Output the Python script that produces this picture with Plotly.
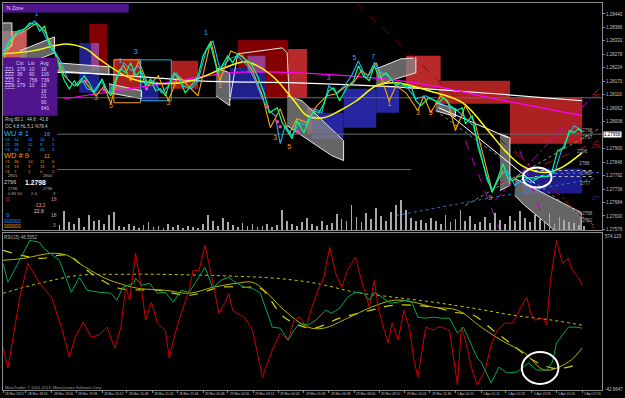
import plotly.graph_objects as go

# ---------------- DATA (prices stored in points: price = pts / 1e5) ----------------
green_x = [3,10,18,25,30,37,40,45,50,55,60,65,70,75,78,85,90,95,100,103,108,112,118,122,127,132,137,142,147,152,157,162,167,172,176,182,187,192,197,200,205,212,220,230,235,240,247,253,260,267,272,280,285,290,295,300,307,312,317,322,327,332,337,343,350,357,362,367,373,378,383,390,395,400,405,410,415,420,425,433,443,448,455,460,467,470,477,483,490,497,503,508,513,518,523,527,532,537,542,547,552,557,563,570,575,580,584,588]
green_pts = [128272,128332,128372,128380,128404,128396,128372,128392,128312,128284,128232,128172,128140,128172,128152,128192,128164,128124,128152,128180,128132,128112,128192,128220,128204,128244,128192,128212,128152,128180,128132,128140,128112,128172,128204,128172,128124,128148,128172,128192,128272,128324,128204,128272,128244,128280,128260,128244,128192,128120,128044,128064,128004,127972,127940,128012,127964,128020,128052,128044,128080,128132,128144,128092,128144,128172,128232,128192,128172,128232,128184,128204,128180,128152,128164,128144,128152,128092,128072,128104,128084,128104,128072,128052,128064,128000,128032,127904,127812,127724,127784,127840,127780,127772,127788,127792,127780,127784,127780,127792,127788,127800,127892,127904,127972,127964,127980,127964]

cyan_x = [3,12,20,28,35,42,48,55,62,68,75,82,88,95,102,110,118,125,133,140,148,155,163,170,178,185,193,200,208,215,222,232,240,250,258,265,272,278,283,288,295,302,310,318,325,332,340,348,355,362,370,378,385,392,400,410,420,430,440,450,460,470,478,485,492,498,505,512,520,528,536,544,552,560,567,574,580,588]
cyan_pts = [128292,128352,128364,128388,128412,128380,128332,128292,128244,128180,128152,128180,128140,128132,128172,128124,128180,128244,128212,128232,128164,128172,128124,128152,128204,128152,128140,128172,128292,128332,128220,128260,128272,128232,128172,128100,128052,128032,127920,127992,127952,128004,127992,128060,128044,128152,128124,128152,128192,128252,128180,128244,128204,128192,128156,128152,128100,128112,128092,128072,128060,128020,127992,127892,127772,127732,127792,127812,127752,127780,127764,127784,127788,127804,127892,127952,127992,127972]

orange_x = [3,15,25,37,45,55,65,75,85,97,105,112,120,125,132,140,150,160,170,180,190,200,213,222,233,245,255,265,273,283,292,300,310,320,330,340,350,357,365,372,380,393,400,410,422,428,435,445,452,460,470,480,497,503,508]
orange_pts = [128252,128352,128372,128404,128372,128292,128192,128152,128172,128112,128152,128080,128212,128232,128172,128252,128152,128192,128092,128192,128152,128112,128332,128172,128292,128272,128212,128112,127984,128060,127960,128020,128004,128072,128112,128120,128152,128164,128212,128192,128244,128092,128152,128124,128052,128112,128044,128112,128092,127972,128072,128000,127732,127772,127812]

ma_x = [3,33,67,87,100,133,167,193,227,247,260,277,297,310,327,343,360,380,400,433,467,493,510,527,550,567,588]
ma_pts = [128280,128292,128320,128300,128260,128180,128160,128172,128224,128248,128232,128184,128092,128032,128024,128052,128092,128152,128164,128132,128084,127972,127892,127832,127804,127824,127884]

white_x = [3,100,200,300,400,500,588]
white_pts = [128212,128200,128172,128164,128148,128120,128092]

magenta_x = [65,150,233,300,420,500,588]
magenta_pts = [128100,128152,128204,128204,128164,128100,128032]

hline_pts = [128104, 127958, 127816]
hline_x0 = [58, 58, 58]
hline_x1 = [608, 608, 415]

vol_x = list(range(60, 591, 5))
vol = [50,190,80,60,120,30,150,90,100,60,150,180,40,
       30,60,40,20,50,80,30,40,20,60,30,50,20,40,30,20,
       60,150,90,40,120,80,50,30,70,40,60,30,
       40,60,30,50,200,90,60,40,80,120,60,40,90,50,
       70,160,110,90,250,130,80,170,110,220,140,90,180,250,300,200,120,90,
       100,70,120,90,60,150,80,110,200,90,140,60,
       80,130,70,170,100,60,140,90,190,120,80,150,110,90,170,60,130,100,80,70,50,40]

# supply/demand zones: x0, x1, top pts, bottom pts, colour
zone_x0 = [3, 90, 80, 92, 115, 142, 173, 240, 291, 232, 250, 310, 315, 347, 380, 410, 443, 515, 528]
zone_x1 = [27, 108, 100, 100, 142, 160, 200, 291, 310, 268, 268, 319, 347, 380, 403, 445, 515, 588, 588]
zone_top = [128372,128400,128324,128324,128260,128172,128252,128336,128300,128224,128272,128064,128044,128140,128152,128272,128172,128104,127820]
zone_bot = [128264,128212,128124,128212,128132,128092,128140,128104,128104,128096,128204,127960,127940,127984,128044,128140,128080,127920,127720]
zone_col = ['#c85a5a','#820000','#20208c','#963c8c','#aa1e1e','#1c1c8c','#aa1e1e','#820000','#b82a2a',
            '#20208c','#963c8c','#b82a2a','#2626a0','#2626a0','#2626a0','#b82a2a','#ac2222','#ac2222','#1c1c8c']

box_x0 = [115, 142]
box_x1 = [142, 173]
box_top = [128256, 128256]
box_bot = [128084, 128092]
box_col = ['#ff9900', '#20b0e0']

# grey channel bands (polygons)
band_x = [[3,12,12,3], [20,55,55,20], [58,110,110,58], [110,143,143,110], [218,232,232,218],
          [290,305,347,347,335,290], [380,405,420,420,400,380], [505,515,515,505],
          [520,540,587,587,560,530,520], [440,460,460,440]]
band_pts = [[128404,128404,128312,128292], [128292,128348,128284,128228], [128244,128228,128196,128212],
            [128160,128132,128100,128124], [128224,128204,128072,128112],
            [128112,128092,127932,127852,127872,127992], [128220,128260,128264,128204,128180,128152],
            [127960,127944,127752,127732], [127780,127740,127644,127572,127572,127672,127712],
            [128084,128060,128028,128052]]
outline_x = [232,240,285,290,292]
outline_pts = [128092,128280,128304,128284,128112]

# trend / fib lines
seg_x0 = [360,520,500,500,470,440,400,525,470,540,540,560,443,453]
seg_x1 = [600,600,605,605,605,600,600,552,505,600,600,605,513,540]
seg_p0 = [128484,127892,127692,127752,127672,128052,127632,127892,127932,127812,127788,127800,128064,128040]
seg_p1 = [127580,127580,128140,127932,127980,127592,127780,127572,127572,127812,127788,127804,127944,127760]
seg_col = ['#8b0000','#a01010','#c000c0','#a01010','#909090','#808080','#1e78c8','#c000c0','#c000c0',
           '#c0c0c0','#c0c0c0','#3c8cff','#ffffff','#ffffff']
seg_dash = ['dash','dot','dashdot','dash','dot','dot','dot','dash','dash','dot','dot','dot','solid','solid']

cyan_lab_x = [37,122,137,208,332,358,377]
cyan_lab_pts = [128440,128252,128288,128364,128184,128264,128268]
cyan_lab = ['1','1','3','1','3','5','7']
orange_lab_x = [97,112,170,222,278,292,393,422,435,460,495]
orange_lab_pts = [128104,128068,128080,128152,127940,127904,128076,128040,128040,127980,127700]
orange_lab = ['3','5','3','1','3','5','1','3','5','7','9']

mark_x = [87,105,148,270,280,283,300]
mark_pts = [128172,128136,128140,128068,128008,127988,127968]

lvl_x = [588,588,583,585,587,586,588,588]
lvl_pts = [127972,127944,127888,127840,127800,127760,127640,127612]
lvl_lab = ['2798','2797','2796','2788','2780','2777','2768','2762']

# oscillator panel
red_x = [2,8,20,28,40,52,62,70,76,84,92,100,108,116,122,127,131,137,143,147,153,159,167,171,177,183,191,195,201,207,211,215,221,227,231,235,239,247,255,261,265,275,283,291,297,303,309,315,321,327,333,339,345,351,359,365,369,373,378,382,388,392,396,402,408,414,418,422,430,438,442,446,454,458,462,466,470,476,482,490,496,502,510,518,526,532,536,540,548,552,556,562,568,574,578,584,588]
red_v = [145,45,329,465,385,329,209,89,169,229,169,177,209,125,209,369,317,505,357,237,309,225,197,85,185,265,357,437,437,537,465,385,265,305,345,277,265,249,197,85,9,117,185,157,237,249,209,289,357,409,529,425,369,437,489,397,345,289,397,289,197,145,225,157,277,197,77,9,209,197,209,209,197,77,-23,209,157,49,-23,37,137,197,225,225,289,329,265,237,245,217,397,557,465,485,437,409,377]
osc_green_x = [3,8,16,30,40,44,60,72,80,88,100,112,118,124,135,137,143,151,159,167,175,183,191,199,207,215,223,231,239,247,255,263,275,283,291,297,303,311,319,329,335,343,351,359,367,373,378,386,394,402,410,416,422,430,438,446,454,462,468,474,482,486,496,504,512,522,534,542,552,558,562,574,582,588]
osc_green_v = [465,389,449,557,549,525,477,349,409,357,349,345,317,369,385,405,377,385,345,349,309,357,349,397,449,365,397,409,385,369,365,345,209,205,157,197,225,217,237,277,265,285,329,349,345,317,349,329,305,309,317,309,249,245,249,245,245,185,209,157,85,69,-15,49,25,29,65,37,37,69,145,209,209,205]
ysolid_x = [3,24,52,68,80,104,120,139,167,191,215,239,255,267,287,311,327,351,375,398,418,438,462,486,506,530,550,574,588]
ysolid_v = [477,485,505,497,465,409,385,365,357,345,369,385,389,357,277,209,205,245,289,317,309,289,277,209,157,105,37,69,125]
ydash_x = [3,40,68,92,120,159,191,223,247,263,287,315,343,375,398,438,458,478,498,518,538,558,574,586]
ydash_v = [517,485,497,425,365,357,337,369,369,365,249,205,245,277,297,289,269,257,197,137,77,45,49,65]
ydot_x = [3,40,80,120,159,239,279,319,359,398,438,478,518,558,588]
ydot_v = [345,385,417,421,421,413,405,385,349,329,309,285,257,237,217]

current_pts = 127958
price_ticks = [128440 - 54 * i for i in range(17)]
time_tick_x = [3,26,52,77,103,128,154,179,205,230,256,281,307,332,358,383,409,434,460,486,511,537,562,588]
time_labels = ["28 Mar 2013","28 Mar 18:24","28 Mar 19:00","28 Mar 19:36","28 Mar 20:12","28 Mar 20:48",
               "28 Mar 21:24","28 Mar 22:44","29 Mar 00:48","29 Mar 02:00","29 Mar 03:12","29 Mar 04:24",
               "29 Mar 05:36","29 Mar 06:48","29 Mar 08:00","29 Mar 09:12","29 Mar 10:24","29 Mar 11:36",
               "1 Apr 00:21","1 Apr 01:11","1 Apr 02:23","1 Apr 03:35","1 Apr 05:20","1 Apr 07:20"]

# ---------------- FIGURE ----------------
W, H = 625, 398
ML, MR, MT, MB = 3, 17, 2, 8
PW, PH = W - ML - MR, H - MT - MB
FONT = "Liberation Sans"

def P(v):
    return [p / 1e5 for p in v]

def px(x):
    return (x - ML) / PW

def py(y):
    return (H - MB - y) / PH

fig = go.Figure()

# volume
fig.add_trace(go.Bar(x=vol_x, y=vol, width=0.8, marker=dict(color='#a8a8a8', line=dict(width=0)),
                     xaxis='x', yaxis='y3'))

# grey bands
for bx, bp in zip(band_x, band_pts):
    fig.add_trace(go.Scatter(x=bx, y=P(bp), fill='toself', fillcolor='rgba(135,135,135,0.75)', mode='lines',
                             line=dict(color='#e8e8e8', width=1), xaxis='x', yaxis='y'))
fig.add_trace(go.Scatter(x=outline_x, y=P(outline_pts), mode='lines', line=dict(color='#e8e8e8', width=1),
                         xaxis='x', yaxis='y'))

# horizontal levels
for lv, a, b in zip(hline_pts, hline_x0, hline_x1):
    fig.add_trace(go.Scatter(x=[a, b], y=P([lv, lv]), mode='lines', line=dict(color='#6a6a6a', width=1),
                             xaxis='x', yaxis='y'))

# trend lines
for a, b, p0, p1, c, d in zip(seg_x0, seg_x1, seg_p0, seg_p1, seg_col, seg_dash):
    fig.add_trace(go.Scatter(x=[a, b], y=P([p0, p1]), mode='lines', line=dict(color=c, width=1, dash=d),
                             xaxis='x', yaxis='y'))

fig.add_trace(go.Scatter(x=white_x, y=P(white_pts), mode='lines', line=dict(color='#ffffff', width=1.2, shape='spline'),
                         xaxis='x', yaxis='y'))
fig.add_trace(go.Scatter(x=magenta_x, y=P(magenta_pts), mode='lines', line=dict(color='#ff00ff', width=1.2, shape='spline'),
                         xaxis='x', yaxis='y'))
fig.add_trace(go.Scatter(x=ma_x, y=P(ma_pts), mode='lines', line=dict(color='#ffff00', width=1.5, shape='spline'),
                         xaxis='x', yaxis='y'))
fig.add_trace(go.Scatter(x=orange_x, y=P(orange_pts), mode='lines', line=dict(color='#ffa500', width=1.1),
                         xaxis='x', yaxis='y'))
fig.add_trace(go.Scatter(x=cyan_x, y=P(cyan_pts), mode='lines', line=dict(color='#1eb4ff', width=1.1),
                         xaxis='x', yaxis='y'))
fig.add_trace(go.Scatter(x=green_x, y=P(green_pts), mode='lines', line=dict(color='#00ff80', width=1.2),
                         xaxis='x', yaxis='y'))
fig.add_trace(go.Scatter(x=mark_x, y=P(mark_pts), mode='markers', marker=dict(color='#ff3cc8', size=3, symbol='square'),
                         xaxis='x', yaxis='y'))
fig.add_trace(go.Scatter(x=cyan_lab_x, y=P(cyan_lab_pts), mode='text', text=cyan_lab,
                         textfont=dict(color='#1eb4ff', size=7, family=FONT), xaxis='x', yaxis='y'))
fig.add_trace(go.Scatter(x=orange_lab_x, y=P(orange_lab_pts), mode='text', text=orange_lab,
                         textfont=dict(color='#ff9900', size=7, family=FONT), xaxis='x', yaxis='y'))
fig.add_trace(go.Scatter(x=lvl_x, y=P(lvl_pts), mode='text', text=lvl_lab, textposition='middle right',
                         textfont=dict(color='#b0b0b0', size=4.5, family=FONT), xaxis='x', yaxis='y'))
fig.add_trace(go.Scatter(x=[598, 598], y=P([128108, 127908]), mode='text', text=['280', '279'], textposition='middle right',
                         textfont=dict(color='#c02020', size=4.5, family=FONT), xaxis='x', yaxis='y'))
fig.add_trace(go.Scatter(x=[598], y=P([127700]), mode='text', text=['277'], textposition='middle right',
                         textfont=dict(color='#3030c0', size=4.5, family=FONT), xaxis='x', yaxis='y'))

# oscillator panel
fig.add_trace(go.Scatter(x=ydot_x, y=ydot_v, mode='lines', line=dict(color='#c8c800', width=1, dash='dot', shape='spline'),
                         xaxis='x2', yaxis='y2'))
fig.add_trace(go.Scatter(x=ydash_x, y=ydash_v, mode='lines', line=dict(color='#d2d200', width=1.2, dash='dash', shape='spline'),
                         xaxis='x2', yaxis='y2'))
fig.add_trace(go.Scatter(x=ysolid_x, y=ysolid_v, mode='lines', line=dict(color='#b4b400', width=1, shape='spline'),
                         xaxis='x2', yaxis='y2'))
fig.add_trace(go.Scatter(x=red_x, y=red_v, mode='lines', line=dict(color='#d00000', width=1),
                         xaxis='x2', yaxis='y2'))
fig.add_trace(go.Scatter(x=osc_green_x, y=osc_green_v, mode='lines', line=dict(color='#00a850', width=1),
                         xaxis='x2', yaxis='y2'))

shapes = []
for a, b, t, bt, c in zip(zone_x0, zone_x1, zone_top, zone_bot, zone_col):
    shapes.append(dict(type='rect', xref='x', yref='y', x0=a, x1=b, y0=bt / 1e5, y1=t / 1e5,
                       fillcolor=c, line=dict(width=0), layer='below'))
for a, b, t, bt, c in zip(box_x0, box_x1, box_top, box_bot, box_col):
    shapes.append(dict(type='rect', xref='x', yref='y', x0=a, x1=b, y0=bt / 1e5, y1=t / 1e5,
                       line=dict(color=c, width=1), layer='below'))
# highlight circles
shapes.append(dict(type='circle', xref='x', yref='y', x0=528, x1=557, y0=1.27744, y1=1.27824,
                   line=dict(color='#ffffff', width=2)))
shapes.append(dict(type='circle', xref='x2', yref='y2', x0=527, x1=564, y0=-19, y1=109,
                   line=dict(color='#ffffff', width=2)))
# title bar and info box
shapes.append(dict(type='rect', xref='paper', yref='paper', x0=px(3), x1=px(130), y0=py(11.5), y1=py(3),
                   fillcolor='#50148c', line=dict(width=0)))
shapes.append(dict(type='rect', xref='paper', yref='paper', x0=px(3), x1=px(58), y0=py(115), y1=py(57),
                   fillcolor='#50148c', line=dict(width=0)))

ann = []

def note(x, y, text, color, size, anchor='left'):
    ann.append(dict(xref='paper', yref='paper', x=px(x), y=py(y), text=text, showarrow=False,
                    xanchor=anchor, yanchor='middle', borderpad=0,
                    font=dict(color=color, size=size, family=FONT)))

note(5, 7, "'N Zone", '#e0d0ff', 5)
LC = '#dccdf5'
for x, t in [(15, 'Cst'), (27, 'Lst'), (39, 'Avg')]:
    note(x, 62, t, LC, 5)
rows = [('ZZ1', '279', '10', '16'), ('ZZ2', '36', '90', '116'), ('ZZ3', '2', '756', '739'), ('ZZw', '279', '10', '16')]
for i, r in enumerate(rows):
    yy = 68 + 5.5 * i
    note(4, yy, '<u>' + r[0] + '</u>', LC, 5)
    note(16, yy, r[1], LC, 5)
    note(28, yy, r[2], LC, 5)
    note(40, yy, r[3], LC, 5)
for i, t in enumerate(['16', '21', '90', '641']):
    note(40, 90 + 5.6 * i, t, LC, 5)
note(4, 119, 'Rng 80.1 : 44.8 : 41.8', '#c8c8c8', 4.5)
note(4, 126, 'OC 4.8 HL 5.1 %78.4', '#c8c8c8', 4.5)
note(3, 132.5, 'WU # 1', '#1eb4ff', 7.5)
note(43, 133.5, '16', '#1eb4ff', 5.5)
for i, r in enumerate([('#1', '14', '11', '14', '1'), ('#2', '18', '12', '9', '1'), ('#3', '15', '0', '25', '1')]):
    yy = 138.5 + 5 * i
    for x, t in zip([4, 13, 27, 39, 51], r):
        note(x, yy, t, '#1eb4ff', 4.2)
note(3, 154.5, 'WD # 9', '#ff9900', 7.5)
note(43, 155.5, '11', '#ff9900', 5.5)
for i, r in enumerate([('#1', '30', '14', '11', '6'), ('#2', '13', '9', '15', '3'), ('#3', '7', '1', '0', '2')]):
    yy = 160.5 + 5 * i
    for x, t in zip([4, 13, 27, 39, 51], r):
        note(x, yy, t, '#ff9900', 4.2)
note(7, 175, '2801', '#b0b0b0', 4.2)
note(42, 175, '2800', '#b0b0b0', 4.2)
note(3, 181.5, '2796', '#d0d0d0', 5.5)
note(24, 181.5, '<b>1.2798</b>', '#ffffff', 6.8)
note(7, 187.5, '2796', '#b0b0b0', 4.2)
note(42, 187.5, '2796', '#b0b0b0', 4.2)
note(7, 192.8, '0.83 50', '#b0b0b0', 4.2)
note(30, 192.8, '2.4', '#b0b0b0', 4.2)
note(52, 192.8, '3', '#b0b0b0', 4.2)
note(5, 199, '0', '#ff2020', 6)
note(50, 199, '18', '#d08080', 5)
note(33, 205, '-13.2', '#ff9aa0', 5)
note(33, 210.5, '22.8', '#e0c0c0', 5)
note(5, 215, '0', '#1e90ff', 6)
note(50, 215, '18', '#b0b0b0', 5)
note(3, 220.5, '000000', '#1e90ff', 5)
note(3, 225.5, '000000', '#ff9900', 5)
note(52, 225, '3', '#b0b0b0', 5)
note(3, 237, 'RSI(15) 46.5552', '#b0b0b0', 4.5)
note(4, 387.5, 'MetaTrader, \u00a9 2001-2013, MetaQuotes Software Corp.', '#a0a0a0', 4)
note(610, 236, '574.129', '#c0c0c0', 4.5)
note(610, 389, '-42.6647', '#c0c0c0', 4.5)
ann.append(dict(xref='paper', yref='y', x=px(609.5), y=current_pts / 1e5, text='%.5f' % (current_pts / 1e5),
                showarrow=False, xanchor='left', yanchor='middle', bgcolor='#ffffff', borderpad=0,
                font=dict(color='#000000', size=4.5, family=FONT)))
for tx, tl in zip(time_tick_x, time_labels):
    ann.append(dict(xref='x2', yref='paper', x=tx + 1, y=py(394), text=tl, showarrow=False,
                    xanchor='left', yanchor='middle', borderpad=0,
                    font=dict(color='#c0c0c0', size=3.3, family=FONT)))

shown_ticks = [p for p in price_ticks if abs(p - current_pts) > 20]

axcol = '#8c8c8c'
fig.update_layout(
    width=W, height=H, margin=dict(l=ML, r=MR, t=MT, b=MB),
    paper_bgcolor='#000000', plot_bgcolor='#000000', showlegend=False,
    shapes=shapes, annotations=ann, bargap=0,
    xaxis=dict(domain=[0, 1], range=[3, 608], anchor='y', showticklabels=False, showgrid=False, zeroline=False,
               showline=True, mirror=True, linecolor=axcol, linewidth=1, ticks=''),
    yaxis=dict(domain=[(H - MB - 230) / PH, 1], range=[1.27572, 1.28484], side='right', anchor='x',
               tickvals=[p / 1e5 for p in shown_ticks], ticktext=['%.5f' % (p / 1e5) for p in shown_ticks],
               tickfont=dict(color='#c0c0c0', size=4.5, family=FONT), ticks='outside', ticklen=2, tickcolor=axcol,
               showgrid=False, zeroline=False, showline=True, mirror=True, linecolor=axcol, linewidth=1),
    yaxis3=dict(overlaying='y', range=[0, 2280], visible=False, showgrid=False),
    xaxis2=dict(domain=[0, 1], range=[3, 608], anchor='y2', matches='x', showticklabels=False, showgrid=False,
                zeroline=False, showline=True, mirror=True, linecolor=axcol, linewidth=1,
                tickvals=time_tick_x, ticks='outside', ticklen=2, tickcolor=axcol),
    yaxis2=dict(domain=[0, (H - MB - 233) / PH], range=[-43, 585], side='right', anchor='x2', showticklabels=False,
                showgrid=False, zeroline=False, showline=True, mirror=True, linecolor=axcol, linewidth=1, ticks=''),
)

fig.write_html("out.html", config={'displayModeBar': False})
